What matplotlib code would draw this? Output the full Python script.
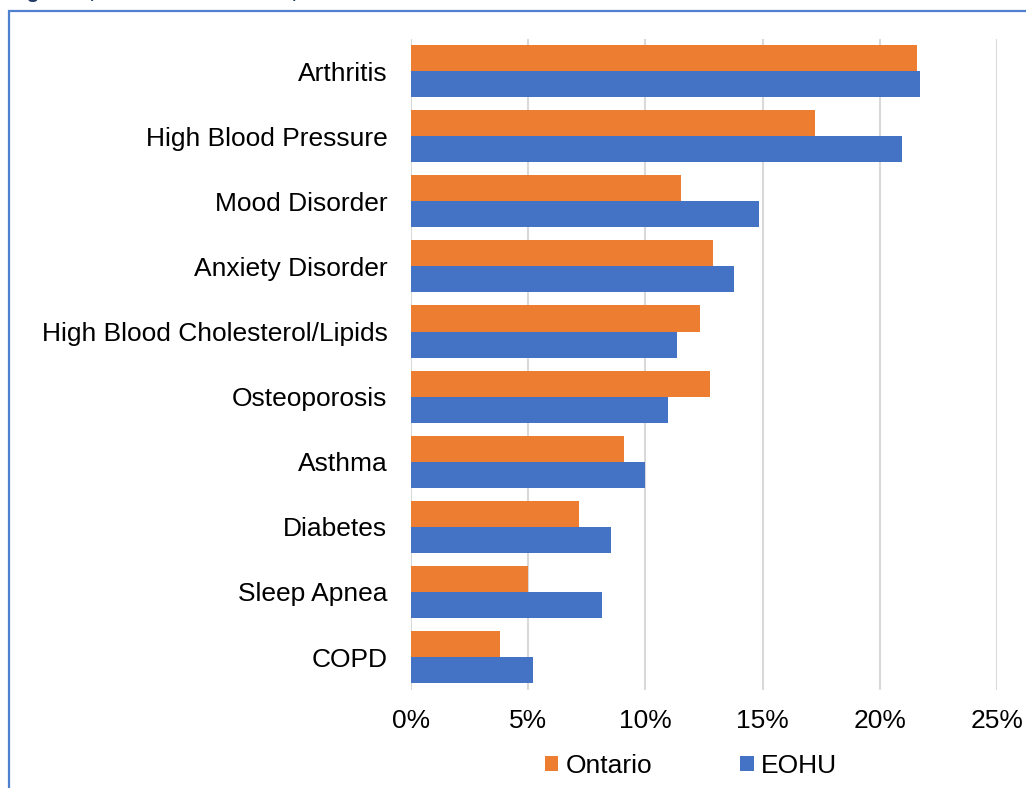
import numpy as np
import matplotlib
matplotlib.use('Agg')
import matplotlib.pyplot as plt
from matplotlib.patches import Rectangle
from matplotlib.ticker import PercentFormatter

conditions = ['Arthritis', 'High Blood Pressure', 'Mood Disorder', 'Anxiety Disorder',
              'High Blood Cholesterol/Lipids', 'Osteoporosis', 'Asthma', 'Diabetes',
              'Sleep Apnea', 'COPD']
ontario = [21.6, 17.25, 11.5, 12.9, 12.35, 12.75, 9.1, 7.15, 5.0, 3.8]
eohu = [21.7, 20.95, 14.85, 13.8, 11.35, 10.95, 10.0, 8.55, 8.15, 5.2]
x_ticks = [0, 5, 10, 15, 20, 25]

plt.rcParams['font.family'] = ['Liberation Sans', 'DejaVu Sans']

fig = plt.figure(figsize=(10.26, 7.88), dpi=100)
ax = fig.add_axes([0.4006, 0.1249, 0.5711, 0.8262])

y = np.arange(len(conditions))
h = 0.4
ax.barh(y - h / 2, ontario, height=h, color='#ED7D31', label='Ontario', zorder=3)
ax.barh(y + h / 2, eohu, height=h, color='#4472C4', label='EOHU', zorder=3)

ax.set_ylim(len(conditions) - 0.5, -0.5)
ax.set_xlim(0, 25)
ax.set_xticks(x_ticks)
ax.xaxis.set_major_formatter(PercentFormatter(decimals=0))
ax.set_yticks(y)
ax.set_yticklabels(conditions)
ax.tick_params(axis='both', length=0, labelsize=19, colors='black')
ax.tick_params(axis='x', pad=14)
ax.tick_params(axis='y', pad=17)
ax.grid(axis='x', color='#D9D9D9', linewidth=1.5, zorder=0)
for s in ax.spines.values():
    s.set_visible(False)

fig.legend(loc='center', bbox_to_anchor=(0.6735, 0.028), ncol=2, frameon=False,
           fontsize=19, handlelength=0.5, handleheight=0.5, handletextpad=0.28,
           columnspacing=3.35, borderpad=0)

# outer frame of the original figure box (cut off at right and bottom)
fig.patches.append(Rectangle((8.5 / 1026, -0.05), 1.2, 1 - 10.5 / 788 + 0.05,
                             transform=fig.transFigure, fill=False,
                             edgecolor='#4F7FCF', linewidth=1.6))
# title sitting above the crop, only its descenders show
fig.text(8 / 1026, 1 + 1.5 / 788, 'Figure 3, Chronic conditions, EOHU and Ontario',
         fontsize=15, fontweight='bold', color='#1F3864', va='baseline', ha='left')

fig.savefig('out.png', dpi=100)
